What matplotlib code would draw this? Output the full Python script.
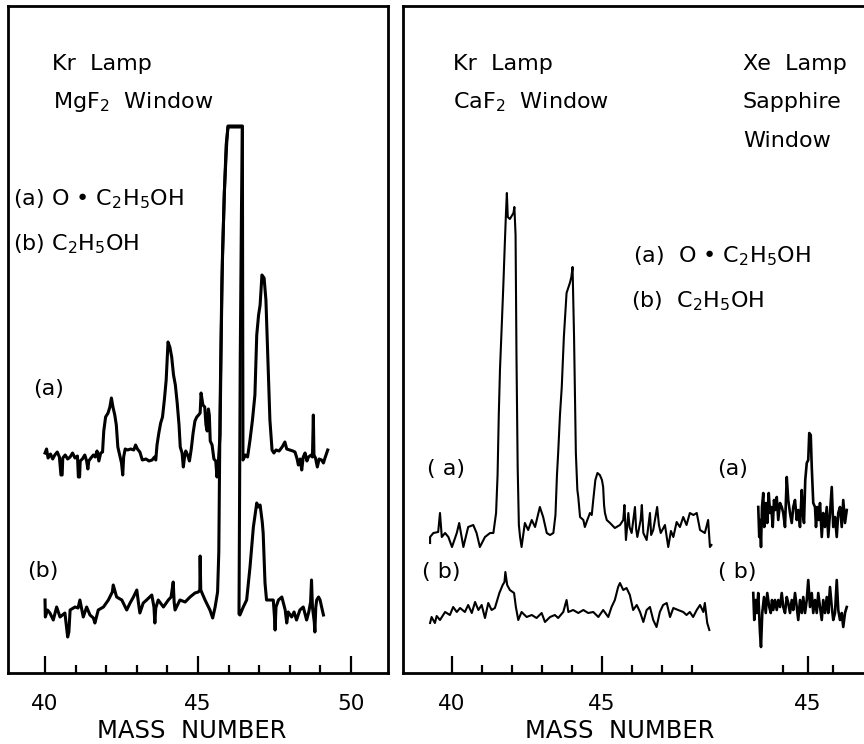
import numpy as np
import matplotlib
matplotlib.use("Agg")
import matplotlib.pyplot as plt

# ---------------- data (mass number, ion signal in arbitrary units) ----------------
# Kr lamp, MgF2 window
kr_mgf2_a_mass = [40.00, 40.05, 40.10, 40.18, 40.25, 40.32, 40.40, 40.47, 40.52, 40.56,
                  40.58, 40.66, 40.74, 40.82, 40.90, 40.98, 41.06, 41.09, 41.13, 41.15,
                  41.22, 41.30, 41.36, 41.40, 41.43, 41.50, 41.58, 41.64, 41.70, 41.76,
                  41.82, 41.88, 41.92, 41.98, 42.06, 42.12, 42.17, 42.22, 42.28, 42.33,
                  42.38, 42.44, 42.50, 42.54, 42.57, 42.62, 42.70, 42.80, 42.90, 42.96,
                  43.02, 43.10, 43.18, 43.30, 43.40, 43.50, 43.58, 43.62, 43.66, 43.72,
                  43.78, 43.84, 43.90, 43.96, 44.02, 44.08, 44.14, 44.20, 44.26, 44.32,
                  44.38, 44.42, 44.48, 44.52, 44.56, 44.60, 44.66, 44.72, 44.78, 44.84,
                  44.90, 44.96, 45.02, 45.07, 45.10, 45.16, 45.22, 45.26, 45.30, 45.34,
                  45.37, 45.40, 45.46, 45.52, 45.58, 45.62, 45.66, 45.72, 45.76, 45.80,
                  45.86, 45.92, 45.98, 46.45, 46.47, 46.55, 46.62, 46.70, 46.78, 46.86,
                  46.92, 46.98, 47.03, 47.09, 47.16, 47.22, 47.29, 47.35, 47.42, 47.48,
                  47.55, 47.65, 47.75, 47.84, 47.90, 48.00, 48.10, 48.17, 48.24, 48.28,
                  48.34, 48.39, 48.44, 48.50, 48.56, 48.61, 48.70, 48.74, 48.77, 48.79,
                  48.84, 48.90, 48.96, 49.04, 49.10, 49.15, 49.24]
kr_mgf2_a_sig = [2, 6, -3, 1, -4, 0, 3, -2, -20, -20,
                 -3, 0, -4, -2, 2, -3, -1, -22, -22, -6,
                 -4, 0, -6, -14, -6, -3, 0, -2, 4, -6,
                 2, 3, 24, 38, 42, 48, 57, 48, 40, 30,
                 8, 0, -8, -20, -2, 6, 5, 6, 5, 10,
                 6, 3, -5, -4, -6, -5, -2, -5, 10, 22,
                 32, 38, 55, 75, 113, 108, 98, 80, 70, 52,
                 30, 8, 2, -12, -2, 4, 0, -6, 6, 22,
                 34, 38, 40, 42, 62, 50, 48, 30, 24, 46,
                 40, 14, 10, -4, -6, -22, -10, 20, 120, 200,
                 260, 310, 328, 328, -5, 0, -2, 15, 35, 60,
                 120, 140, 150, 180, 177, 155, 90, 35, 5, 2,
                 5, 4, 8, 13, 6, 5, 4, 3, -4, -10,
                 -4, -15, -2, 2, -6, -2, 0, -2, 40, 0,
                 -3, -12, -4, -5, -8, -3, 5]

kr_mgf2_b_mass = [40.00, 40.01, 40.08, 40.16, 40.27, 40.38, 40.49, 40.65, 40.74, 40.78,
                  40.82, 40.98, 41.08, 41.14, 41.25, 41.36, 41.47, 41.58, 41.63, 41.74,
                  41.91, 42.07, 42.20, 42.23, 42.34, 42.51, 42.67, 42.78, 42.89, 43.00,
                  43.05, 43.10, 43.21, 43.32, 43.49, 43.56, 43.59, 43.62, 43.70, 43.87,
                  44.03, 44.12, 44.19, 44.22, 44.25, 44.41, 44.58, 44.74, 44.90, 45.01,
                  45.06, 45.07, 45.09, 45.23, 45.39, 45.48, 45.56, 45.64, 45.68, 45.72,
                  45.78, 45.86, 45.94, 45.98, 46.45, 46.42, 46.38, 46.35, 46.34, 46.37,
                  46.48, 46.59, 46.70, 46.81, 46.92, 46.97, 47.03, 47.10, 47.13, 47.19,
                  47.24, 47.35, 47.46, 47.50, 47.52, 47.55, 47.63, 47.74, 47.85, 47.90,
                  47.95, 48.06, 48.14, 48.22, 48.33, 48.44, 48.55, 48.62, 48.68, 48.71,
                  48.74, 48.80, 48.82, 48.85, 48.88, 48.94, 48.99, 49.04, 49.10]
kr_mgf2_b_sig = [12, -5, 2, -1, -8, 5, -5, -1, -25, -20,
                 2, 5, 4, 12, -5, 5, -3, -6, -11, 2,
                 5, 12, 20, 27, 15, 12, 2, 9, 15, 22,
                 10, -1, 9, 12, 17, 5, -11, 4, 12, 5,
                 12, 15, 30, 10, 2, 12, 10, 15, 19, 20,
                 22, 56, 22, 12, 2, -6, 5, 20, 60, 200,
                 330, 420, 470, 486, 486, 400, 250, 60, -2, -3,
                 5, 12, 45, 85, 109, 105, 107, 90, 79, 29,
                 12, 12, 12, -5, -18, 5, 12, 15, 2, -11,
                 0, -5, 0, -8, 2, 5, -8, 0, 10, 32,
                 5, -10, -20, 5, 12, 15, 12, 5, -3]

# Kr lamp, CaF2 window
kr_caf2_a_mass = [39.27, 39.27, 39.38, 39.54, 39.60, 39.66, 39.77, 39.88, 40.00, 40.16,
                  40.24, 40.38, 40.54, 40.71, 40.82, 40.93, 41.10, 41.27, 41.38, 41.47,
                  41.52, 41.56, 41.60, 41.66, 41.71, 41.76, 41.80, 41.83, 41.86, 41.93,
                  42.05, 42.08, 42.12, 42.15, 42.19, 42.23, 42.27, 42.32, 42.43, 42.54,
                  42.66, 42.77, 42.93, 43.04, 43.16, 43.27, 43.38, 43.45, 43.50, 43.54,
                  43.60, 43.66, 43.73, 43.82, 43.93, 43.98, 44.02, 44.04, 44.07, 44.10,
                  44.13, 44.18, 44.21, 44.27, 44.38, 44.43, 44.50, 44.60, 44.66, 44.71,
                  44.78, 44.85, 44.93, 45.00, 45.04, 45.07, 45.10, 45.16, 45.27, 45.43,
                  45.60, 45.71, 45.75, 45.80, 45.88, 45.92, 45.99, 46.10, 46.14, 46.18,
                  46.29, 46.33, 46.38, 46.49, 46.60, 46.64, 46.71, 46.84, 46.90, 46.96,
                  47.10, 47.21, 47.30, 47.38, 47.49, 47.60, 47.71, 47.82, 47.93, 48.05,
                  48.16, 48.27, 48.43, 48.54, 48.60, 48.65]
kr_caf2_a_sig = [-8, -2, 2, 3, 22, -2, 2, -2, -12, 2,
                 12, -12, 8, 10, 2, -12, -2, 2, 2, 22,
                 60, 120, 165, 210, 248, 290, 322, 342, 318, 316,
                 322, 328, 300, 180, 68, 10, -2, -12, 12, 5,
                 15, 8, 28, 18, 2, 0, 2, 20, 60, 82,
                 120, 148, 198, 242, 252, 258, 268, 240, 198, 140,
                 82, 45, 38, 18, 15, 8, 14, 22, 20, 35,
                 55, 62, 60, 55, 48, 30, 22, 15, 12, 7,
                 10, 15, 30, -5, 22, 8, 2, 28, 6, -2,
                 15, 30, 2, -5, 22, 0, 5, 28, 10, 2,
                 10, -12, 4, -2, 13, 8, 18, 10, 22, 20,
                 22, 5, 2, 15, -12, -10]

kr_caf2_b_mass = [39.27, 39.32, 39.43, 39.49, 39.60, 39.77, 39.93, 40.04, 40.16, 40.27,
                  40.43, 40.54, 40.66, 40.77, 40.88, 40.99, 41.10, 41.21, 41.32, 41.43,
                  41.58, 41.69, 41.75, 41.78, 41.84, 41.93, 42.07, 42.13, 42.21, 42.32,
                  42.49, 42.66, 42.82, 42.99, 43.10, 43.27, 43.43, 43.54, 43.71, 43.82,
                  43.88, 44.04, 44.21, 44.38, 44.54, 44.71, 44.88, 45.04, 45.21, 45.32,
                  45.43, 45.54, 45.60, 45.71, 45.82, 45.93, 46.04, 46.16, 46.27, 46.38,
                  46.49, 46.60, 46.71, 46.82, 46.93, 47.04, 47.16, 47.27, 47.38, 47.54,
                  47.71, 47.82, 47.93, 48.04, 48.16, 48.27, 48.38, 48.43, 48.51, 48.58]
kr_caf2_b_sig = [-5, 1, -5, 2, -2, 6, 3, 11, 6, 10,
                 6, 13, 5, 16, 8, 13, 0, 15, 8, 10,
                 25, 33, 36, 46, 33, 28, 25, 11, -2, 6,
                 1, 3, 0, 5, -4, 1, 3, 0, 6, 18,
                 6, 8, 5, 8, 5, 6, 1, 8, 1, 11,
                 18, 31, 35, 28, 30, 23, 8, 13, 6, -4,
                 8, 11, -2, -9, 6, 13, 15, 1, 10, 8,
                 6, 3, 6, 1, 8, 13, 6, 15, -5, -12]

# Xe lamp, sapphire window
xe_a_mass = [43.01, 43.05, 43.08, 43.12, 43.16, 43.21, 43.25, 43.32, 43.37, 43.43,
             43.48, 43.53, 43.59, 43.64, 43.69, 43.75, 43.81, 43.88, 43.95, 44.01,
             44.08, 44.15, 44.21, 44.28, 44.35, 44.41, 44.48, 44.55, 44.61, 44.68,
             44.75, 44.79, 44.84, 44.89, 44.95, 45.01, 45.05, 45.11, 45.15, 45.21,
             45.28, 45.32, 45.37, 45.43, 45.48, 45.55, 45.61, 45.68, 45.75, 45.81,
             45.88, 45.95, 46.01, 46.08, 46.15, 46.21, 46.28, 46.35, 46.41, 46.48,
             46.55]
xe_a_sig = [18, -12, 5, -22, 18, 32, -2, 22, 2, 32,
            12, 18, -2, 25, 15, 28, 5, 22, 18, 12,
            -2, 48, 25, 12, 2, 18, 25, 5, 15, -2,
            35, 12, 2, 45, 62, 65, 92, 90, 58, 22,
            18, -2, 18, 5, 22, -12, 12, -2, 18, -12,
            12, 38, -2, 8, -12, 12, 18, -2, 25, 2,
            15]

xe_b_mass = [42.81, 42.85, 42.91, 42.95, 43.01, 43.08, 43.12, 43.17, 43.24, 43.31,
             43.37, 43.45, 43.51, 43.56, 43.61, 43.68, 43.75, 43.81, 43.88, 43.95,
             44.01, 44.08, 44.15, 44.21, 44.28, 44.35, 44.41, 44.48, 44.55, 44.61,
             44.68, 44.75, 44.81, 44.88, 44.95, 45.01, 45.08, 45.15, 45.21, 45.28,
             45.35, 45.41, 45.48, 45.55, 45.61, 45.68, 45.75, 45.81, 45.88, 45.95,
             46.01, 46.08, 46.15, 46.21, 46.28, 46.35, 46.41, 46.48, 46.55]
xe_b_sig = [17, -10, 10, -3, 17, -23, -37, -3, 13, -3,
            17, 3, -3, 10, 0, 10, 0, 10, 3, 17,
            3, -3, 13, 7, -3, 10, 0, 17, 3, -10,
            10, -3, 13, -3, 10, 30, 3, 17, -3, 10,
            -3, 17, 3, -10, 10, -3, 13, -3, 23, 3,
            -10, -3, 30, 0, -10, -3, -17, -3, 3]

# ---------------- layout ----------------
W, H = 864, 744
fig = plt.figure(figsize=(W / 100, H / 100), dpi=100)
FONT = "DejaVu Sans"
plt.rcParams["font.family"] = FONT
plt.rcParams["mathtext.fontset"] = "dejavusans"

bottom, height = 71 / H, 667 / H
ax_l = fig.add_axes([8 / W, bottom, 380 / W, height])
ax_r = fig.add_axes([403 / W, bottom, 477 / W, height])
ax_xe = fig.add_axes([403 / W, bottom, 477 / W, height])

ax_l.set_xlim(38.79, 51.21)
ax_r.set_xlim(38.367, 54.27)
ax_xe.set_xlim(28.8, 47.88)
for ax in (ax_l, ax_r, ax_xe):
    ax.set_ylim(0, 667)
    ax.set_yticks([])

# vertical placement of each trace inside its panel
off_l_a, off_l_b = 218, 61
off_r_a, off_r_b = 138, 55
off_x_a, off_x_b = 148, 63

lw_l, lw_r, lw_x = 2.2, 1.5, 1.9
ax_l.plot(kr_mgf2_a_mass, np.asarray(kr_mgf2_a_sig) + off_l_a, color="black", lw=lw_l)
ax_l.plot(kr_mgf2_b_mass, np.asarray(kr_mgf2_b_sig) + off_l_b, color="black", lw=lw_l)
ax_r.plot(kr_caf2_a_mass, np.asarray(kr_caf2_a_sig) + off_r_a, color="black", lw=lw_r)
ax_r.plot(kr_caf2_b_mass, np.asarray(kr_caf2_b_sig) + off_r_b, color="black", lw=lw_r)
ax_xe.plot(xe_a_mass, np.asarray(xe_a_sig) + off_x_a, color="black", lw=lw_x)
ax_xe.plot(xe_b_mass, np.asarray(xe_b_sig) + off_x_b, color="black", lw=lw_x)

# frames
for ax in (ax_l, ax_r):
    for s in ax.spines.values():
        s.set_linewidth(2.0)
for s in ax_xe.spines.values():
    s.set_visible(False)
ax_xe.patch.set_visible(False)

# ticks
tick_fs = 15.5
def set_ticks(ax, major, minor, labels):
    ax.set_xticks(major, labels)
    ax.set_xticks(minor, minor=True)
    ax.tick_params(axis="x", which="major", direction="in", length=12, width=1.6,
                   pad=15, labelsize=tick_fs)
    ax.tick_params(axis="x", which="minor", direction="in", length=6, width=1.6)

set_ticks(ax_l, [40, 45, 50], [41, 42, 43, 44, 46, 47, 48, 49], ["40", "45", "50"])
set_ticks(ax_r, [40, 45], [41, 42, 43, 44, 46, 47, 48], ["40", "45"])
set_ticks(ax_xe, [45], [44, 46], ["45"])

# text
fs = 16
def put(x, y, s, size=fs, ha="left"):
    fig.text(x / W, 1 - y / H, s, fontsize=size, ha=ha, va="baseline")

put(52, 70, "Kr  Lamp")
put(53, 108, r"MgF$_2$  Window")
put(13, 205, r"(a) O • C$_2$H$_5$OH")
put(13, 250, r"(b) C$_2$H$_5$OH")
put(33, 395, "(a)")
put(27, 577, "(b)")

put(453, 70, "Kr  Lamp")
put(453, 108, r"CaF$_2$  Window")
put(743, 70, "Xe  Lamp")
put(743, 108, "Sapphire")
put(743, 147, "Window")
put(633, 262, r"(a)  O • C$_2$H$_5$OH")
put(631, 307, r"(b)  C$_2$H$_5$OH")
put(427, 475, "( a)")
put(717, 475, "(a)")
put(422, 578, "( b)")
put(718, 578, "( b)")

put(192, 738, "MASS  NUMBER", size=17.5, ha="center")
put(620, 738, "MASS  NUMBER", size=17.5, ha="center")

fig.savefig("out.png", dpi=100, facecolor="white")
